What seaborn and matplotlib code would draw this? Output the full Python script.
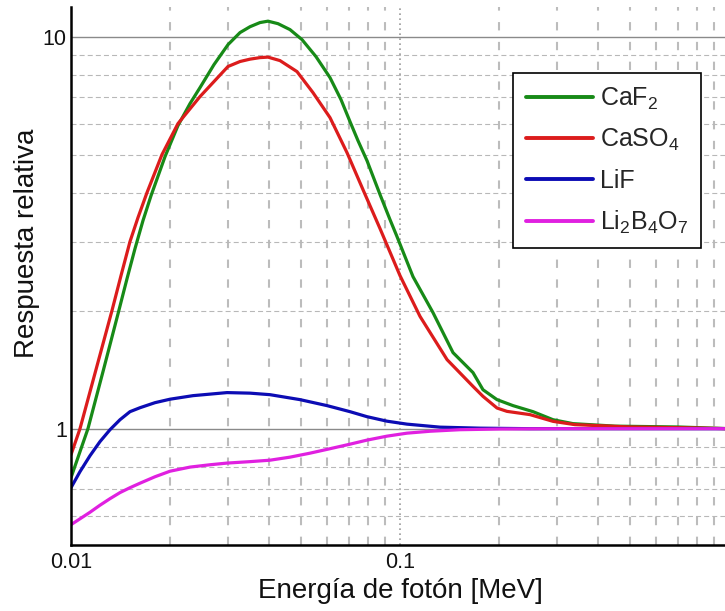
import numpy as np
import pandas as pd
import matplotlib
matplotlib.use("Agg")
import matplotlib.pyplot as plt
import seaborn as sns
from matplotlib.ticker import FixedLocator, FixedFormatter, LogLocator, NullFormatter
from matplotlib.lines import Line2D

# ---- data ----
series_names = ["CaF$_2$", "CaSO$_4$", "LiF", "Li$_2$B$_4$O$_7$"]
series_colors = ["#178a17", "#dc1c1c", "#0c0cb4", "#e020e0"]

E_caf2 = [0.01, 0.01126, 0.01251, 0.01390, 0.01480, 0.01565, 0.01655, 0.01751, 0.01931,
          0.02114, 0.02300, 0.02466, 0.02720, 0.03001, 0.03264, 0.03501, 0.03753, 0.03970,
          0.04258, 0.04631, 0.05037, 0.05555, 0.06127, 0.06617, 0.07047, 0.07452, 0.07937,
          0.08697, 0.09324, 0.09792, 0.10952, 0.12598, 0.14493, 0.16668, 0.17874, 0.19715,
          0.22051, 0.25374, 0.29180, 0.33563, 0.45, 0.7, 1.0]
R_caf2 = [0.750, 1.0, 1.398, 1.965, 2.413, 2.879, 3.394, 3.930, 4.942,
          5.930, 6.748, 7.410, 8.483, 9.541, 10.24, 10.60, 10.86, 10.95,
          10.79, 10.42, 9.825, 8.890, 7.860, 6.908, 6.071, 5.429, 4.827,
          3.954, 3.414, 3.090, 2.442, 1.977, 1.563, 1.390, 1.257, 1.186,
          1.145, 1.105, 1.054, 1.030, 1.015, 1.01, 1.0]

E_caso4 = [0.01, 0.01065, 0.01191, 0.01332, 0.01419, 0.01511, 0.01598, 0.01702, 0.0189,
           0.02114, 0.02466, 0.0272, 0.03, 0.03264, 0.035, 0.03753, 0.0397, 0.04318,
           0.04863, 0.05439, 0.06127, 0.06901, 0.07718, 0.08697, 0.1, 0.11502, 0.139,
           0.16668, 0.17874, 0.19715, 0.2114, 0.2484, 0.2918, 0.34, 0.5, 0.75, 1.0]
R_caso4 = [0.858, 1.0, 1.414, 2.0, 2.457, 3.0, 3.454, 4.0, 5.0,
           6.0, 7.03, 7.68, 8.39, 8.64, 8.76, 8.84, 8.865, 8.686,
           8.143, 7.197, 6.214, 5.059, 4.071, 3.237, 2.457, 1.934, 1.50,
           1.282, 1.209, 1.129, 1.107, 1.086, 1.044, 1.024, 1.01, 1.005, 1.0]

E_lif = [0.01, 0.01065, 0.01142, 0.01225, 0.01314, 0.01409, 0.01511, 0.01621, 0.01800,
         0.02, 0.02348, 0.02980, 0.03501, 0.04026, 0.04966, 0.06, 0.07047, 0.07937,
         0.09129, 0.1050, 0.1323, 0.1750, 0.2478, 1.0]
R_lif = [0.707, 0.777, 0.853, 0.927, 0.994, 1.054, 1.105, 1.131, 1.165,
         1.189, 1.214, 1.236, 1.232, 1.221, 1.186, 1.145, 1.105, 1.073,
         1.045, 1.027, 1.009, 1.003, 1.0, 1.0]

E_lbo = [0.01, 0.01065, 0.01142, 0.01225, 0.01314, 0.01409, 0.01511, 0.01621, 0.01800,
         0.02, 0.02300, 0.02645, 0.02980, 0.03501, 0.04026, 0.04631, 0.05326, 0.06127,
         0.07047, 0.07937, 0.09129, 0.1050, 0.1234, 0.1522, 0.2013, 0.3064, 1.0]
R_lbo = [0.569, 0.589, 0.612, 0.638, 0.663, 0.687, 0.707, 0.726, 0.754,
         0.779, 0.798, 0.809, 0.817, 0.824, 0.831, 0.846, 0.866, 0.889,
         0.913, 0.935, 0.957, 0.974, 0.985, 0.994, 0.998, 1.0, 1.0]

x_ticks = [0.01, 0.1, 1]
x_ticklabels = ["0.01", "0.1", "1"]
y_ticks = [1, 10]
y_ticklabels = ["1", "10"]

frames = []
for name, E, R in zip(series_names, [E_caf2, E_caso4, E_lif, E_lbo],
                      [R_caf2, R_caso4, R_lif, R_lbo]):
    frames.append(pd.DataFrame({"E": E, "R": R, "material": name}))
df = pd.concat(frames, ignore_index=True)

# ---- style ----
sns.set_theme(style="white")
plt.rcParams["font.family"] = ["Liberation Sans", "DejaVu Sans"]
plt.rcParams["mathtext.default"] = "regular"

W, H = 725, 611
fig = plt.figure(figsize=(W / 100, H / 100), dpi=100)
ax = fig.add_axes([71 / W, (H - 545) / H, 658 / W, (545 - 7) / H])

sns.lineplot(data=df, x="E", y="R", hue="material", palette=series_colors,
             hue_order=series_names, estimator=None, sort=False, lw=2.3, ax=ax,
             legend=False)

ax.set_xscale("log")
ax.set_yscale("log")
ax.set_xlim(0.01, 1.0)
ax.set_ylim(0.505, 11.9)

ax.xaxis.set_major_locator(FixedLocator(x_ticks))
ax.xaxis.set_major_formatter(FixedFormatter(x_ticklabels))
ax.yaxis.set_major_locator(FixedLocator(y_ticks))
ax.yaxis.set_major_formatter(FixedFormatter(y_ticklabels))
ax.xaxis.set_minor_locator(LogLocator(base=10, subs=np.arange(2, 10)))
ax.yaxis.set_minor_locator(LogLocator(base=10, subs=np.arange(2, 10)))
ax.xaxis.set_minor_formatter(NullFormatter())
ax.yaxis.set_minor_formatter(NullFormatter())
ax.tick_params(which="both", length=0)
ax.tick_params(axis="x", labelsize=15.5, pad=5, colors="#111111")
ax.tick_params(axis="y", labelsize=15.5, pad=3, colors="#111111")

# grids
ax.grid(False)
ax.grid(which="major", axis="y", color="#8a8a8a", lw=1.0, ls="-")
ax.grid(which="minor", axis="y", color="#b8b8b8", lw=0.8, ls=(0, (4.5, 2.8)))
ax.grid(which="major", axis="x", color="#9a9a9a", lw=1.2, ls=(0, (1, 2)))
ax.grid(which="minor", axis="x", color="#bcbcbc", lw=1.5, ls=(0, (4, 5.5)))
ax.set_axisbelow(True)

for s in ["top", "right"]:
    ax.spines[s].set_visible(False)
for s in ["left", "bottom"]:
    ax.spines[s].set_color("black")
    ax.spines[s].set_linewidth(1.8)

ax.set_xlabel("Energía de fotón [MeV]", fontsize=20, labelpad=4, color="#111111")
ax.set_ylabel("Respuesta relativa", fontsize=20, color="#111111")
ax.yaxis.set_label_coords(-0.047, 0.561)

handles = [Line2D([0], [0], color=c, lw=2.8) for c in series_colors]
leg = fig.legend(handles, series_names, loc="upper left",
                 bbox_to_anchor=(513 / W, 1 - 73 / H), bbox_transform=fig.transFigure,
                 borderaxespad=0, fontsize=18, handlelength=2.7, handletextpad=0.3,
                 labelspacing=0.62, borderpad=0.5, fancybox=False, framealpha=1,
                 edgecolor="black")
leg.get_frame().set_linewidth(1.2)

fig.savefig("out.png", dpi=100)
